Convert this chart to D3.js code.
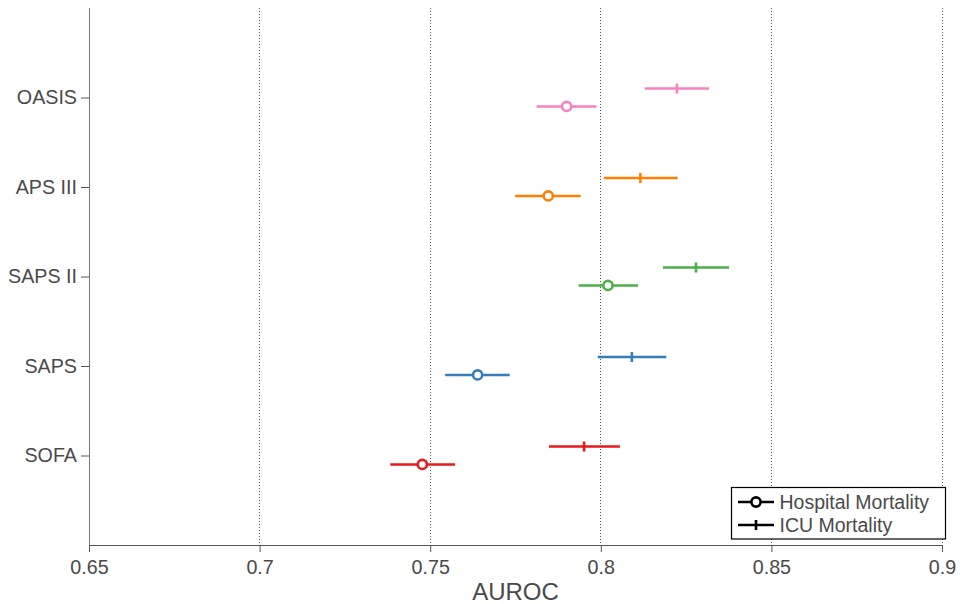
<!DOCTYPE html>
<html>
<head>
<meta charset="utf-8">
<script src="https://cdn.jsdelivr.net/npm/d3@7"></script>
<style>
  html, body { margin: 0; padding: 0; background: #fff; }
  svg { display: block; font-family: "Liberation Sans", Arial, Helvetica, sans-serif; }
</style>
</head>
<body>
<svg id="chart" width="960" height="604"></svg>
<script>
// Severity scores, listed bottom to top
const scores = ["SOFA", "SAPS", "SAPS II", "APS III", "OASIS"];
const colors = ["#e41a1c", "#377eb8", "#4daf4a", "#ff7f00", "#f781bf"];

// AUROC point estimates with 95% confidence bounds
const icuAuroc = [0.7951, 0.8091, 0.8279, 0.8116, 0.8223];
const icuLow   = [0.7848, 0.7991, 0.8182, 0.8009, 0.8129];
const icuHigh  = [0.8056, 0.8192, 0.8376, 0.8225, 0.8317];

const hospAuroc = [0.7477, 0.7639, 0.8021, 0.7846, 0.7900];
const hospLow   = [0.7383, 0.7544, 0.7935, 0.7749, 0.7812];
const hospHigh  = [0.7573, 0.7733, 0.8109, 0.7941, 0.7987];

const xTicks = [0.65, 0.7, 0.75, 0.8, 0.85, 0.9];
const xTickLabels = ["0.65", "0.7", "0.75", "0.8", "0.85", "0.9"];
const legendLabels = ["Hospital Mortality", "ICU Mortality"];

const svg = d3.select("#chart");
const plotLeft = 89, plotRight = 942, plotTop = 8, plotBottom = 545;

const x = d3.scaleLinear().domain([0.65, 0.9]).range([plotLeft, plotRight]);
const y = d3.scaleLinear().domain([0, scores.length + 1]).range([plotBottom, plotTop]);
const offset = 0.1; // vertical separation of the two outcomes within a score

const textColor = "#4a4a4a";
const labelSize = "19.7px";

// dotted vertical gridlines
svg.append("g").selectAll("line").data(xTicks).join("line")
  .attr("x1", d => x(d)).attr("x2", d => x(d))
  .attr("y1", plotTop).attr("y2", plotBottom)
  .attr("stroke", "#555").attr("stroke-width", 1)
  .attr("stroke-dasharray", "1.2,1.8")
  .attr("shape-rendering", "crispEdges");

// left axis line
svg.append("line")
  .attr("x1", plotLeft).attr("x2", plotLeft).attr("y1", plotTop).attr("y2", plotBottom)
  .attr("stroke", "#777").attr("stroke-width", 1).attr("shape-rendering", "crispEdges");

// bottom axis
const xAxis = d3.axisBottom(x).tickValues(xTicks)
  .tickFormat((d, i) => xTickLabels[i]).tickSize(7).tickPadding(8);
const gx = svg.append("g").attr("transform", `translate(0,${plotBottom})`).call(xAxis);
gx.select(".domain").attr("stroke", "#555");
gx.selectAll(".tick line").attr("stroke", "#555");
gx.selectAll(".tick text").attr("fill", textColor)
  .style("font-size", labelSize).style("font-family", "Liberation Sans, Arial, sans-serif");

// left axis with score names
const yAxis = d3.axisLeft(y).tickValues(d3.range(1, scores.length + 1))
  .tickFormat(d => scores[d - 1]).tickSize(8).tickPadding(4);
const gy = svg.append("g").attr("transform", `translate(${plotLeft},0)`).call(yAxis);
gy.select(".domain").remove();
gy.selectAll(".tick line").attr("stroke", "#555");
gy.selectAll(".tick text").attr("fill", textColor)
  .style("font-size", labelSize).style("font-family", "Liberation Sans, Arial, sans-serif");

// x axis title
svg.append("text")
  .attr("x", (plotLeft + plotRight) / 2).attr("y", 600)
  .attr("text-anchor", "middle").attr("fill", textColor)
  .style("font-size", "24px").text("AUROC");

const marks = svg.append("g");
const sw = 2.6;

scores.forEach((s, i) => {
  const c = colors[i];
  const yi = y(i + 1 + offset);
  const yh = y(i + 1 - offset);

  // ICU mortality: interval with plus marker
  marks.append("line")
    .attr("x1", x(icuLow[i])).attr("x2", x(icuHigh[i]))
    .attr("y1", yi).attr("y2", yi)
    .attr("stroke", c).attr("stroke-width", sw);
  marks.append("line")
    .attr("x1", x(icuAuroc[i])).attr("x2", x(icuAuroc[i]))
    .attr("y1", yi - 5).attr("y2", yi + 5)
    .attr("stroke", c).attr("stroke-width", sw);

  // Hospital mortality: interval with open circle
  marks.append("line")
    .attr("x1", x(hospLow[i])).attr("x2", x(hospHigh[i]))
    .attr("y1", yh).attr("y2", yh)
    .attr("stroke", c).attr("stroke-width", sw);
  marks.append("circle")
    .attr("cx", x(hospAuroc[i])).attr("cy", yh).attr("r", 4.6)
    .attr("fill", "#fff").attr("stroke", c).attr("stroke-width", sw);
});

// legend
const lg = svg.append("g");
lg.append("rect")
  .attr("x", 731.5).attr("y", 487.5).attr("width", 214).attr("height", 51.5)
  .attr("fill", "#fff").attr("stroke", "#000").attr("stroke-width", 1.2);
const rowsY = [502, 525];
legendLabels.forEach((lab, k) => {
  const ry = rowsY[k];
  lg.append("line")
    .attr("x1", 738).attr("x2", 774).attr("y1", ry).attr("y2", ry)
    .attr("stroke", "#000").attr("stroke-width", sw);
  if (k === 0) {
    lg.append("circle").attr("cx", 756).attr("cy", ry).attr("r", 4.6)
      .attr("fill", "#fff").attr("stroke", "#000").attr("stroke-width", sw);
  } else {
    lg.append("line").attr("x1", 756).attr("x2", 756)
      .attr("y1", ry - 5).attr("y2", ry + 5)
      .attr("stroke", "#000").attr("stroke-width", sw);
  }
  lg.append("text")
    .attr("x", 779.5).attr("y", ry + 7)
    .attr("fill", textColor).style("font-size", "19.5px").text(lab);
});
</script>
</body>
</html>
